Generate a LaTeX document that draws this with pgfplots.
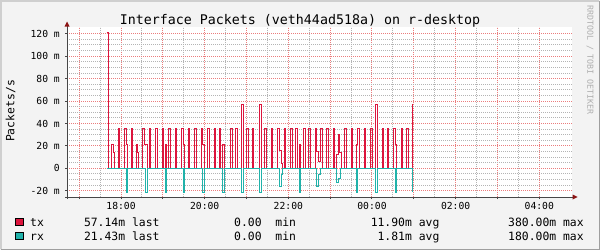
\documentclass[border=0pt]{standalone}
\usepackage{pgfplots}
\pgfplotsset{compat=1.18}
\usepackage{fontspec}
\setmainfont{DejaVu Sans Mono}
\newcommand\fs[1]{\fontsize{#1}{#1}\selectfont}
\definecolor{bg}{RGB}{243,243,243}
\definecolor{txc}{RGB}{220,20,60}
\definecolor{rxc}{RGB}{32,178,170}
\definecolor{mgrid}{RGB}{235,125,125}
\definecolor{mingrid}{RGB}{180,180,180}
\definecolor{axisc}{RGB}{70,70,70}
\definecolor{arrowc}{RGB}{140,20,20}
\definecolor{shadea}{RGB}{207,207,207}
\definecolor{shadeb}{RGB}{158,158,158}
\definecolor{wm}{RGB}{175,175,175}
\begin{document}
\begin{tikzpicture}[x=1pt,y=1pt]
\useasboundingbox (0,0) rectangle (600,250);
\fill[bg] (0,0) rectangle (600,250);
\draw[shadea,line width=1.5pt] (0.75,0.75) -- (0.75,249.25) -- (599.25,249.25);
\draw[shadeb,line width=1.5pt] (0.75,0.75) -- (599.25,0.75) -- (599.25,249.25);
\begin{axis}[
  at={(67pt,53pt)}, anchor=south west,
  scale only axis, width=505pt, height=170pt,
  xmin=16.708, xmax=28.782, ymin=-25.5, ymax=126,
  axis line style={draw=none},
  axis background/.style={fill=white},
  xtick={17,18,...,28},
  xticklabels={,18:00,,20:00,,22:00,,00:00,,02:00,,04:00},
  minor x tick num=1,
  ytick={-20,0,20,40,60,80,100,120},
  yticklabels={-20 m,0,20 m,40 m,60 m,80 m,100 m,120 m},
  minor y tick num=3,
  grid=both,
  major grid style={mgrid, dash pattern=on 1pt off 1pt, line width=1pt},
  minor grid style={mingrid, dash pattern=on 1pt off 1pt, line width=1pt},
  tick pos=left, tick align=outside,
  major tick length=2pt, minor tick length=0pt,
  tick style={axisc, line width=1pt},
  xticklabel style={font=\fs{9.7}, anchor=base, inner sep=0pt, yshift=-10.5pt},
  yticklabel style={font=\fs{9.7}, anchor=east, inner sep=0pt, xshift=-5pt},
  clip=true,
]
\addplot[const plot, txc, line width=1pt] coordinates {
(17.653,121.43)(17.701,0)
(17.773,21.43)(17.821,14.29)(17.844,0)
(17.940,35.71)(17.964,0)
(18.084,35.71)(18.132,21.43)(18.156,0)
(18.251,35.71)(18.275,0)
(18.371,21.43)(18.395,14.29)(18.419,0)
(18.514,35.71)(18.562,21.43)(18.634,0)
(18.682,35.71)(18.706,0)
(18.825,35.71)(18.873,0)
(18.993,35.71)(19.017,0)
(19.065,21.43)(19.089,0)
(19.136,35.71)(19.184,0)
(19.304,35.71)(19.328,0)
(19.447,35.71)(19.495,21.43)(19.519,0)
(19.615,35.71)(19.639,0)
(19.758,35.71)(19.806,0)
(19.926,35.71)(19.950,21.43)(19.998,0)
(20.069,35.71)(20.117,0)
(20.237,35.71)(20.261,0)
(20.356,35.71)(20.380,0)
(20.428,21.43)(20.476,0)
(20.620,35.71)(20.667,0)
(20.739,35.71)(20.787,0)
(20.883,57.14)(20.931,0)
(21.002,35.71)(21.050,0)
(21.146,35.71)(21.170,0)
(21.313,57.14)(21.361,0)
(21.433,35.71)(21.481,0)
(21.600,35.71)(21.624,0)
(21.744,35.71)(21.792,16.07)(21.840,4.29)(21.864,0)
(21.911,35.71)(21.935,0)
(22.055,35.71)(22.103,0)
(22.175,35.71)(22.222,0)
(22.270,21.43)(22.294,0)
(22.366,35.71)(22.414,0)
(22.486,35.71)(22.533,0)
(22.653,35.71)(22.677,15.00)(22.725,5.71)(22.773,35.71)(22.821,0)
(22.916,35.71)(22.964,0)
(23.084,35.71)(23.108,0)
(23.155,12.14)(23.203,30.00)(23.227,14.29)(23.275,0)
(23.347,35.71)(23.395,0)
(23.514,35.71)(23.538,0)
(23.634,21.43)(23.658,35.71)(23.706,0)
(23.825,35.71)(23.849,0)
(23.969,35.71)(24.017,0)
(24.088,57.14)(24.136,0)
(24.256,35.71)(24.280,0)
(24.375,35.71)(24.399,0)
(24.519,35.71)(24.567,21.43)(24.591,0)
(24.710,35.71)(24.734,0)
(24.830,35.71)(24.878,0)
(24.974,57.14)
};
\addplot[const plot, rxc, line width=1pt] coordinates {
(17.653,0)
(18.132,-21.43)(18.156,0)
(18.586,-21.43)(18.634,0)
(19.065,-21.43)(19.089,0)
(19.495,-21.43)(19.519,0)
(19.950,-21.43)(19.998,0)
(20.428,-21.43)(20.476,0)
(20.883,-21.43)(20.931,0)
(21.313,-21.43)(21.361,0)
(21.792,-16.07)(21.840,-5.71)(21.864,0)
(22.270,-21.43)(22.294,0)
(22.677,-16.07)(22.725,-5.71)(22.773,0)
(23.155,-12.86)(23.203,-8.57)(23.251,0)
(23.634,-21.43)(23.658,0)
(24.088,-21.43)(24.136,0)
(24.567,-21.43)(24.591,0)
(24.974,-21.43)
};
\end{axis}
% axis lines with arrows
\draw[axisc,line width=1pt] (67,51) -- (67,224);
\draw[axisc,line width=1pt] (65,53) -- (573,53);
\fill[arrowc] (67,228.5) -- (64.5,223.5) -- (69.5,223.5) -- cycle;
\fill[arrowc] (577.5,53) -- (572.5,55.5) -- (572.5,50.5) -- cycle;
% title, labels
\node[anchor=base, font=\fs{13.3}, inner sep=0pt] at (300,226) {Interface Packets (veth44ad518a) on r-desktop};
\node[rotate=90, font=\fs{11.4}, inner sep=0pt] at (10.5,139) {Packets/s};
\node[rotate=-90, font=\fs{8.3}, text=wm, inner sep=0pt] at (590,190) {RRDTOOL / TOBI OETIKER};
% legend
\filldraw[fill=txc, draw=black, line width=0.8pt] (15.8,24.3) rectangle (23.4,31.9);
\filldraw[fill=rxc, draw=black, line width=0.8pt] (15.8,10.3) rectangle (23.4,17.9);
\begin{scope}[every node/.style={font=\fs{11.4}, inner sep=0pt}]
\node[anchor=base west] at (30,24) {tx};
\node[anchor=base east] at (159.7,24) {57.14m last};
\node[anchor=base east] at (296.2,24) {0.00\ \ min};
\node[anchor=base east] at (439.6,24) {11.90m avg};
\node[anchor=base east] at (583.9,24) {380.00m max};
\node[anchor=base west] at (30,10) {rx};
\node[anchor=base east] at (159.7,10) {21.43m last};
\node[anchor=base east] at (296.2,10) {0.00\ \ min};
\node[anchor=base east] at (439.6,10) {1.81m avg};
\node[anchor=base east] at (583.9,10) {180.00m max};
\end{scope}
\end{tikzpicture}
\end{document}
